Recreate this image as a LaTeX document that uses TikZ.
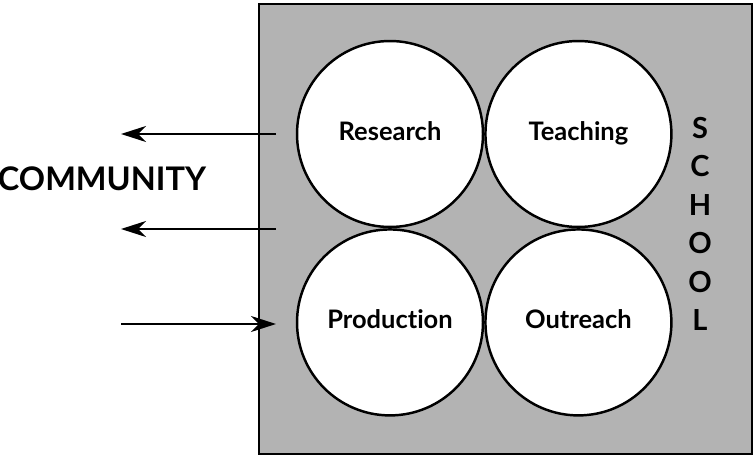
\documentclass[tikz,border=0pt]{standalone}
\usepackage{fontspec}
\setmainfont{Lato}[Ligatures=NoCommon]
\usetikzlibrary{arrows.meta,positioning}
\definecolor{schoolgray}{RGB}{179,179,179}
\tikzset{
roundstyle/.style={
  circle,
  line width=1.4pt,
  inner sep=0pt,
  minimum size=3.72cm,
  text height=1.45ex,
  text depth=0pt,
  align=center,
  draw=black,
  fill=white,
  font=\bfseries\fontsize{14.5}{16}\selectfont,
  }
}
\tikzset{
flowline/.style={
  line width=1.3pt,
  -{Stealth[length=5mm,width=3.2mm,inset=1.6mm]}
  }
}
\begin{document}
\begin{tikzpicture}[x=0.02cm,y=-0.02cm]
    \useasboundingbox (0,0) rectangle (754,459);
    \path [draw, line width=1.2pt, fill=schoolgray] (259,4) rectangle (752,454);

    % circles of the school
    \node[roundstyle] (research) at (390,134) {Research};
    \node[roundstyle, right=0pt of research] (teaching) {Teaching};
    \node[roundstyle, below=0pt of research] (production) {Production};
    \node[roundstyle, right=0pt of production] (outreach) {Outreach};

    % labels
    \node[font=\bfseries\fontsize{18.5}{20}\selectfont] (community) at (102,179) {COMMUNITY};
    \node[font=\bfseries\fontsize{16.5}{21.9}\selectfont, align=center] (school) at (700,224) {S\\C\\H\\O\\O\\L};

    % ends of the arrows
    \coordinate (outa) at (276,134);
    \coordinate (outb) at (276,229);
    \coordinate (inc) at (121,324);
    \coordinate (enda) at (121,134);
    \coordinate (endb) at (121,229);
    \coordinate (endc) at (276,324);

    % arrows to and from the community
    \draw[flowline] (outa) -- (enda);
    \draw[flowline] (outb) -- (endb);
    \draw[flowline] (inc) -- (endc);
\end{tikzpicture}
\end{document}
